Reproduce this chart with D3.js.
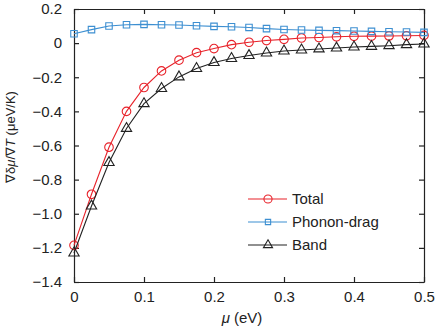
<!DOCTYPE html>
<html>
<head>
<meta charset="utf-8">
<script src="https://cdn.jsdelivr.net/npm/d3@7"></script>
<style>
  body { margin: 0; background: #fff; }
  svg { font-family: "Liberation Sans", Arial, sans-serif; }
</style>
</head>
<body>
<svg width="436" height="333"></svg>
<script>
const width = 436, height = 333;
const margin = { top: 9, right: 12, bottom: 51, left: 74 };

// chemical potential (eV)
const mu = [0, 0.025, 0.05, 0.075, 0.1, 0.125, 0.15, 0.175, 0.2, 0.225, 0.25,
  0.275, 0.3, 0.325, 0.35, 0.375, 0.4, 0.425, 0.45, 0.475, 0.5];

const total = [-1.185, -0.886, -0.61, -0.40, -0.26, -0.163, -0.10, -0.056, -0.032, -0.009, 0.005,
  0.015, 0.022, 0.03, 0.033, 0.037, 0.04, 0.041, 0.042, 0.043, 0.045];
const phonon = [0.055, 0.079, 0.10, 0.108, 0.11, 0.108, 0.106, 0.102, 0.098, 0.096, 0.092,
  0.085, 0.08, 0.077, 0.075, 0.073, 0.071, 0.069, 0.067, 0.065, 0.063];
const band = [-1.23, -0.955, -0.70, -0.50, -0.355, -0.266, -0.198, -0.149, -0.114, -0.09, -0.073,
  -0.058, -0.046, -0.04, -0.034, -0.029, -0.023, -0.019, -0.015, -0.009, -0.005];

const xTicks = [0, 0.1, 0.2, 0.3, 0.4, 0.5];
const yTicks = [0.2, 0, -0.2, -0.4, -0.6, -0.8, -1.0, -1.2, -1.4];

const series = [
  { name: "Total", values: total, color: "#e8232b", marker: "circle" },
  { name: "Phonon-drag", values: phonon, color: "#3d8fd1", marker: "square" },
  { name: "Band", values: band, color: "#222", marker: "triangle" }
];

const svg = d3.select("svg");
const x = d3.scaleLinear().domain([0, 0.5]).range([margin.left, width - margin.right]);
const y = d3.scaleLinear().domain([-1.4, 0.2]).range([height - margin.bottom, margin.top]);

const fmtX = d => d === 0 ? "0" : d3.format(".1f")(d);
const fmtY = d => d === 0 ? "0" : d3.format(".1f")(d).replace("-", "\u2212");

const axisColor = "#222";
const tl = 5;

// axes (ticks inward, mirrored)
const gB = svg.append("g").attr("transform", `translate(0,${y.range()[0]})`)
  .call(d3.axisBottom(x).tickValues(xTicks).tickFormat(fmtX).tickSizeInner(-tl).tickSizeOuter(0).tickPadding(9));
const gT = svg.append("g").attr("transform", `translate(0,${y.range()[1]})`)
  .call(d3.axisTop(x).tickValues(xTicks).tickFormat("").tickSizeInner(-tl).tickSizeOuter(0));
const gL = svg.append("g").attr("transform", `translate(${x.range()[0]},0)`)
  .call(d3.axisLeft(y).tickValues(yTicks).tickFormat(fmtY).tickSizeInner(-tl).tickSizeOuter(0).tickPadding(12));
const gR = svg.append("g").attr("transform", `translate(${x.range()[1]},0)`)
  .call(d3.axisRight(y).tickValues(yTicks).tickFormat("").tickSizeInner(-tl).tickSizeOuter(0));

[gB, gT, gL, gR].forEach(g => {
  g.selectAll("path, line").attr("stroke", axisColor).attr("stroke-width", 1.2);
  g.selectAll("text").attr("fill", axisColor).attr("font-size", 15)
    .attr("font-family", "Liberation Sans, Arial, sans-serif");
});

const symbols = {
  circle: d3.symbol().type(d3.symbolCircle).size(58),
  square: d3.symbol().type(d3.symbolSquare).size(42),
  triangle: d3.symbol().type(d3.symbolTriangle).size(46)
};
const legSymbols = {
  circle: d3.symbol().type(d3.symbolCircle).size(52),
  square: d3.symbol().type(d3.symbolSquare).size(28),
  triangle: d3.symbol().type(d3.symbolTriangle).size(36)
};

const line = d3.line().x((d, i) => x(mu[i])).y(d => y(d));

series.forEach(s => {
  svg.append("path")
    .datum(s.values)
    .attr("fill", "none")
    .attr("stroke", s.color)
    .attr("stroke-width", 1.1)
    .attr("d", line);

  svg.append("g").selectAll("path")
    .data(s.values)
    .enter().append("path")
    .attr("transform", (d, i) => `translate(${x(mu[i])},${y(d)})`)
    .attr("d", symbols[s.marker])
    .attr("fill", "none")
    .attr("stroke", s.color)
    .attr("stroke-width", 1.1);
});

// legend
const legX = 248, legY = 199, legStep = 23;
series.forEach((s, i) => {
  const ly = legY + i * legStep;
  svg.append("line")
    .attr("x1", legX).attr("x2", legX + 39)
    .attr("y1", ly).attr("y2", ly)
    .attr("stroke", s.color).attr("stroke-width", 1.1);
  svg.append("path")
    .attr("transform", `translate(${legX + 20},${ly})`)
    .attr("d", legSymbols[s.marker])
    .attr("fill", "none")
    .attr("stroke", s.color)
    .attr("stroke-width", 1.1);
  svg.append("text")
    .attr("x", 292).attr("y", ly)
    .attr("dy", "0.35em")
    .attr("font-size", 15)
    .attr("fill", axisColor)
    .text(s.name);
});

// axis labels
const xl = svg.append("text")
  .attr("x", 242)
  .attr("y", 323)
  .attr("text-anchor", "middle")
  .attr("font-size", 15)
  .attr("fill", axisColor);
xl.append("tspan").attr("font-style", "italic").text("\u03bc");
xl.append("tspan").text(" (eV)");

const yl = svg.append("text")
  .attr("transform", "translate(15,137) rotate(-90)")
  .attr("text-anchor", "middle")
  .attr("font-size", 13)
  .attr("fill", axisColor);
yl.append("tspan").text("\u2207\u03b4");
yl.append("tspan").attr("font-style", "italic").text("\u03bc");
yl.append("tspan").text("/\u2207");
yl.append("tspan").attr("font-style", "italic").text("T");
yl.append("tspan").text(" (\u03bceV/K)");
</script>
</body>
</html>
